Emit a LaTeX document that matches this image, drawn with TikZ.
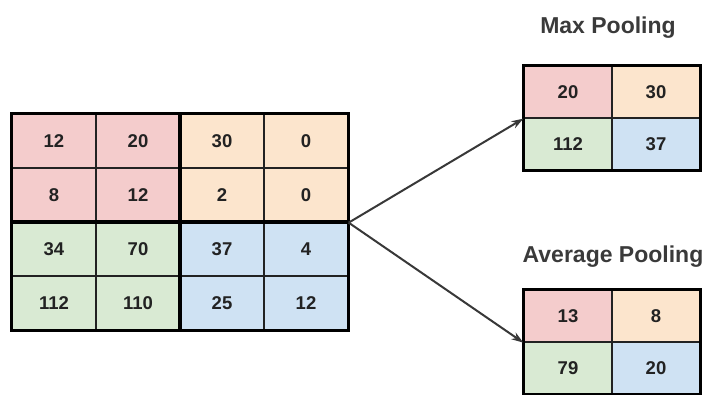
\documentclass[tikz,border=0pt]{standalone}
\usepackage{fontspec}
\setmainfont{Liberation Sans}
\usetikzlibrary{arrows.meta,positioning}
\definecolor{PoolRed}{HTML}{F4CCCC}
\definecolor{PoolOrange}{HTML}{FCE5CD}
\definecolor{PoolGreen}{HTML}{D9EAD3}
\definecolor{PoolBlue}{HTML}{CFE2F3}
\definecolor{InkDark}{HTML}{222222}
\definecolor{TitleGray}{HTML}{3A3A3A}
\tikzset{
  cell/.style={rectangle,draw=InkDark,line width=1.3pt,inner sep=0pt,
               minimum width=84pt,minimum height=54pt,text=InkDark,
               font=\fontsize{18.5}{18.5}\selectfont\bfseries},
  pcell/.style={cell,minimum width=88pt,minimum height=52pt},
  blk/.style={draw=black,line width=2.6pt},
  title/.style={text=TitleGray,font=\fontsize{23}{23}\selectfont\bfseries},
  arr/.style={-{Stealth[length=12pt,width=8pt]},line width=2pt,draw=InkDark!90}
}

\begin{document}
\begin{tikzpicture}[x=1pt,y=-1pt]
  \useasboundingbox (0,0) rectangle (708,394);

  % input feature map, 4x4
  \foreach \r/\row in {1/{12/PoolRed,20/PoolRed,30/PoolOrange,0/PoolOrange},
                       2/{8/PoolRed,12/PoolRed,2/PoolOrange,0/PoolOrange},
                       3/{34/PoolGreen,70/PoolGreen,37/PoolBlue,4/PoolBlue},
                       4/{112/PoolGreen,110/PoolGreen,25/PoolBlue,12/PoolBlue}}
    \foreach \v/\col [count=\c] in \row
      \node[cell,fill=\col] (in-\r-\c) at ({54+84*(\c-1)},{141+54*(\r-1)}) {\v};
  \draw[blk] (in-1-1.north west) rectangle (in-2-2.south east);
  \draw[blk] (in-1-3.north west) rectangle (in-2-4.south east);
  \draw[blk] (in-3-1.north west) rectangle (in-4-2.south east);
  \draw[blk] (in-3-3.north west) rectangle (in-4-4.south east);

  % max pooling, 2x2
  \foreach \r/\row in {1/{20/PoolRed,30/PoolOrange},2/{112/PoolGreen,37/PoolBlue}}
    \foreach \v/\col [count=\c] in \row
      \node[pcell,fill=\col] (max-\r-\c) at ({568+88*(\c-1)},{92+52*(\r-1)}) {\v};
  \draw[blk] (max-1-1.north west) rectangle (max-2-2.south east);
  \node[title] (maxtitle) at (608,28) {Max Pooling};

  % average pooling, 2x2
  \foreach \r/\row in {1/{13/PoolRed,8/PoolOrange},2/{79/PoolGreen,20/PoolBlue}}
    \foreach \v/\col [count=\c] in \row
      \node[pcell,fill=\col] (avg-\r-\c) at ({568+88*(\c-1)},{316+52*(\r-1)}) {\v};
  \draw[blk] (avg-1-1.north west) rectangle (avg-2-2.south east);
  \node[title] (avgtitle) at (613,257) {Average Pooling};

  \draw[arr] (in-2-4.south east) -- (max-1-1.south west);
  \draw[arr] (in-2-4.south east) -- (avg-1-1.south west);
\end{tikzpicture}
\end{document}
